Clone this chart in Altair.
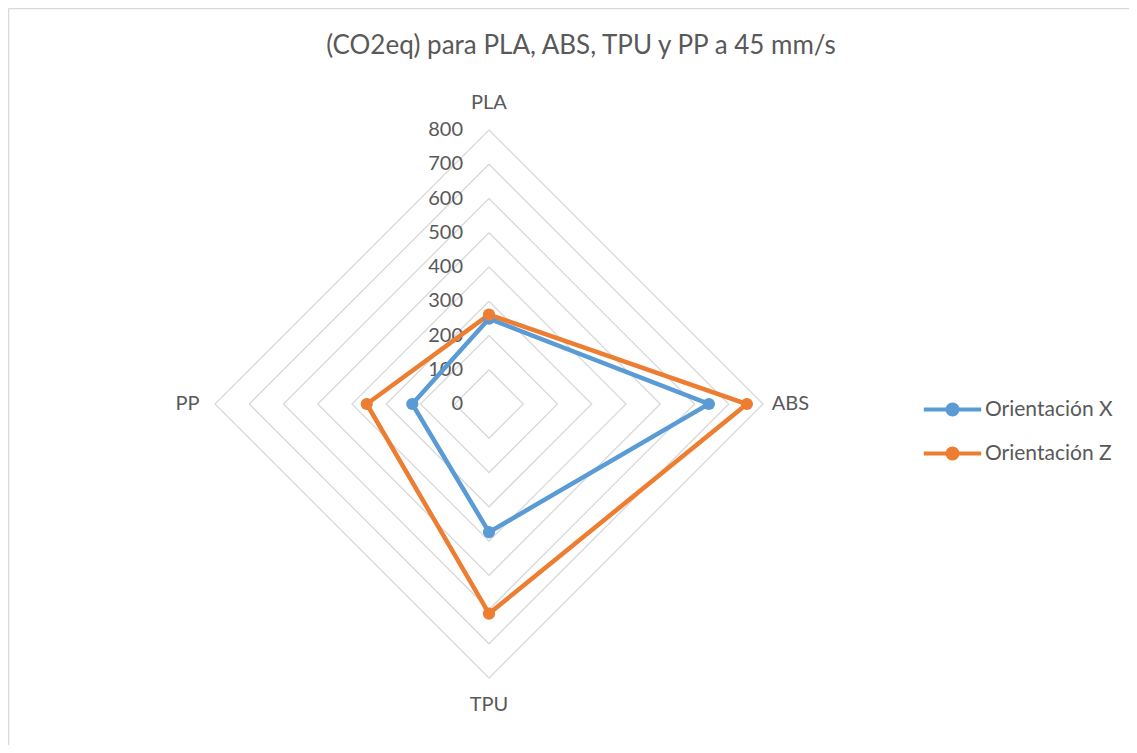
import altair as alt
import pandas as pd
import numpy as np

# ---- data ----
categories = ["PLA", "ABS", "TPU", "PP"]
series_names = ["Orientación X", "Orientación Z"]
values_x = [249, 642, 374, 224]
values_z = [261, 753, 612, 357]
ring_ticks = [0, 100, 200, 300, 400, 500, 600, 700, 800]
title_text = "(CO2eq) para PLA, ABS, TPU y PP a 45 mm/s"
series_colors = ["#5B9BD5", "#ED7D31"]

FONT = "Lato"
TEXT_COLOR = "#595959"
GRID_COLOR = "#D9D9D9"
R_MAX = 800
LABEL_R = 880

n = len(categories)


def polar(r, i):
    a = 2 * np.pi * i / n
    return r * np.sin(a), r * np.cos(a)


rows = []
for s, vals in zip(series_names, [values_x, values_z]):
    for k in range(n + 1):
        i = k % n
        x, y = polar(vals[i], i)
        rows.append(dict(series=s, cat=categories[i], value=vals[i], order=k, x=x, y=y))
df = pd.DataFrame(rows)
pts = df[df["order"] < n].reset_index(drop=True)

grid_rows = []
for t in ring_ticks[1:]:
    for k in range(n + 1):
        x, y = polar(t, k % n)
        grid_rows.append(dict(ring=t, order=k, x=x, y=y))
grid = pd.DataFrame(grid_rows)

tick_df = pd.DataFrame(dict(x=[0.0] * len(ring_ticks), y=ring_ticks,
                            label=[str(t) for t in ring_ticks]))
cat_rows = []
for i, c in enumerate(categories):
    x, y = polar(LABEL_R, i)
    cat_rows.append(dict(cat=c, x=x, y=y))
cat_df = pd.DataFrame(cat_rows)
title_df = pd.DataFrame({"t": [title_text]})

xs = alt.Scale(domain=[-R_MAX, R_MAX], nice=False, zero=False)
ys = alt.Scale(domain=[-R_MAX, R_MAX], nice=False, zero=False)
cscale = alt.Scale(domain=series_names, range=series_colors)

legend = alt.Legend(
    title=None, orient="none", legendX=727, legendY=269,
    symbolType="M-4.1,0H4.1M0.72,0A0.72,0.72,0,1,1,-0.72,0A0.72,0.72,0,1,1,0.72,0Z",
    symbolSize=196, symbolStrokeWidth=4, labelOffset=22,
    labelFont=FONT, labelFontSize=21, labelColor=TEXT_COLOR,
    rowPadding=17, padding=0, labelLimit=300,
)

grid_layer = alt.Chart(grid).mark_line(color=GRID_COLOR, strokeWidth=1.3).encode(
    x=alt.X("x:Q", scale=xs, axis=None),
    y=alt.Y("y:Q", scale=ys, axis=None),
    detail="ring:N",
    order="order:Q",
)

lines = alt.Chart(df).mark_line(strokeWidth=4.5).encode(
    x=alt.X("x:Q", scale=xs, axis=None),
    y=alt.Y("y:Q", scale=ys, axis=None),
    stroke=alt.Stroke("series:N", scale=cscale, legend=legend),
    order="order:Q",
)

points = alt.Chart(pts).mark_point(filled=True, shape="circle", size=150, opacity=1).encode(
    x=alt.X("x:Q", scale=xs, axis=None),
    y=alt.Y("y:Q", scale=ys, axis=None),
    fill=alt.Fill("series:N", scale=cscale, legend=legend),
)

tick_labels = alt.Chart(tick_df).mark_text(
    align="right", baseline="middle", dx=-26, font=FONT, fontSize=20, color=TEXT_COLOR
).encode(
    x=alt.X("x:Q", scale=xs, axis=None),
    y=alt.Y("y:Q", scale=ys, axis=None),
    text="label:N",
)

cat_labels = alt.Chart(cat_df).mark_text(
    align="center", baseline="middle", font=FONT, fontSize=20, color=TEXT_COLOR
).encode(
    x=alt.X("x:Q", scale=xs, axis=None),
    y=alt.Y("y:Q", scale=ys, axis=None),
    text="cat:N",
)

title_layer = alt.Chart(title_df).mark_text(
    align="center", baseline="middle", font=FONT, fontSize=26, color=TEXT_COLOR
).encode(
    x=alt.value(366), y=alt.value(-84), text="t:N"
)

frame_df = pd.DataFrame({"a": [0]})
left_border = alt.Chart(frame_df).mark_rule(color="#D9D9D9", strokeWidth=1.5).encode(
    x=alt.value(-206.5), y=alt.value(-121.5), y2=alt.value(620)
)
top_border = alt.Chart(frame_df).mark_rule(color="#D9D9D9", strokeWidth=1.5).encode(
    x=alt.value(-206.5), x2=alt.value(930), y=alt.value(-121.5)
)

chart = alt.layer(
    left_border, top_border, title_layer, grid_layer, tick_labels, lines, points, cat_labels
).properties(
    width=548, height=548,
    background="white",
    autosize=alt.AutoSizeParams(type="none"),
    padding={"left": 207, "top": 122, "right": 366, "bottom": 67},
).configure_view(strokeWidth=0, stroke="transparent")

chart.save("out.html", embed_options={"renderer": "svg", "actions": False})
